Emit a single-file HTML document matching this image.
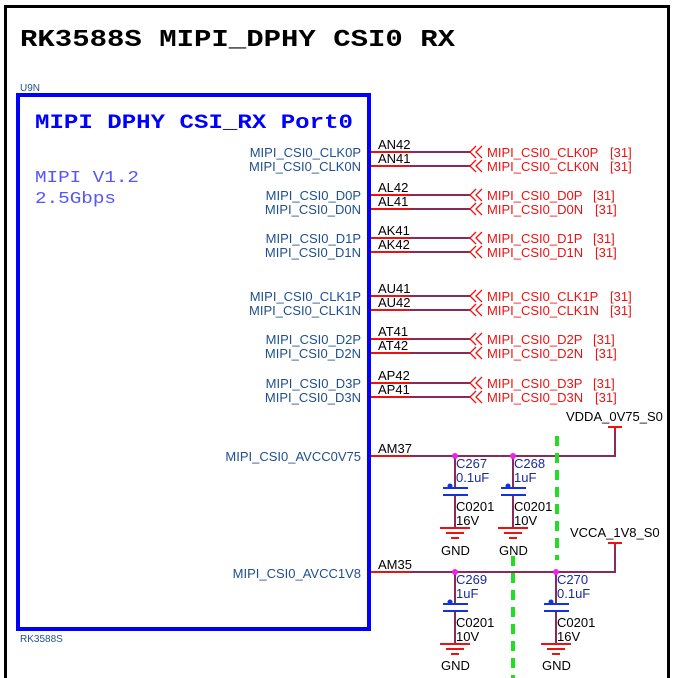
<!DOCTYPE html>
<html><head><meta charset="utf-8"><style>
html,body{margin:0;padding:0;background:#fff;}
svg{display:block;}
.pn{font-family:"Liberation Sans",sans-serif;font-size:13px;fill:#1f4f8f;}
.pin{font-family:"Liberation Sans",sans-serif;font-size:13px;fill:#000;}
.net{font-family:"Liberation Sans",sans-serif;font-size:13px;fill:#ee1111;}
.cap{font-family:"Liberation Sans",sans-serif;font-size:13px;fill:#1a2a9a;}
.blk{font-family:"Liberation Sans",sans-serif;font-size:13px;fill:#000;}
</style></head><body>
<svg width="674" height="678" viewBox="0 0 674 678" xmlns="http://www.w3.org/2000/svg">
<rect x="0" y="0" width="674" height="678" fill="#fff"/>
<path d="M5.5 678 V6.5 H668.5 V678" fill="none" stroke="#000" stroke-width="3"/>
<text x="20" y="46" font-family="Liberation Mono,monospace" font-weight="bold" font-size="24" textLength="435" lengthAdjust="spacingAndGlyphs" fill="#000">RK3588S MIPI_DPHY CSI0 RX</text>
<text x="20" y="91" font-family="Liberation Sans,sans-serif" font-size="10" fill="#1f4f8f">U9N</text>
<rect x="18" y="95" width="351" height="534" fill="none" stroke="#0000ff" stroke-width="4"/>
<text x="35" y="128" font-family="Liberation Mono,monospace" font-weight="bold" font-size="20" textLength="318" lengthAdjust="spacingAndGlyphs" fill="#0000ff">MIPI DPHY CSI_RX Port0</text>
<text x="35" y="182" font-family="Liberation Mono,monospace" font-size="17" textLength="104" lengthAdjust="spacingAndGlyphs" fill="#5555ff">MIPI V1.2</text>
<text x="35" y="203" font-family="Liberation Mono,monospace" font-size="17" textLength="81" lengthAdjust="spacingAndGlyphs" fill="#5555ff">2.5Gbps</text>
<text x="20" y="642" font-family="Liberation Sans,sans-serif" font-size="10" fill="#1f4f8f">RK3588S</text>

<g>
<line x1="371" y1="152" x2="410" y2="152" stroke="#ee1111" stroke-width="2"/><line x1="410" y1="152" x2="470" y2="152" stroke="#8a2a5a" stroke-width="2"/>
<line x1="371" y1="166" x2="410" y2="166" stroke="#ee1111" stroke-width="2"/><line x1="410" y1="166" x2="470" y2="166" stroke="#8a2a5a" stroke-width="2"/>
<line x1="371" y1="195" x2="410" y2="195" stroke="#ee1111" stroke-width="2"/><line x1="410" y1="195" x2="470" y2="195" stroke="#8a2a5a" stroke-width="2"/>
<line x1="371" y1="209" x2="410" y2="209" stroke="#ee1111" stroke-width="2"/><line x1="410" y1="209" x2="470" y2="209" stroke="#8a2a5a" stroke-width="2"/>
<line x1="371" y1="238" x2="410" y2="238" stroke="#ee1111" stroke-width="2"/><line x1="410" y1="238" x2="470" y2="238" stroke="#8a2a5a" stroke-width="2"/>
<line x1="371" y1="252" x2="410" y2="252" stroke="#ee1111" stroke-width="2"/><line x1="410" y1="252" x2="470" y2="252" stroke="#8a2a5a" stroke-width="2"/>
<line x1="371" y1="296" x2="410" y2="296" stroke="#ee1111" stroke-width="2"/><line x1="410" y1="296" x2="470" y2="296" stroke="#8a2a5a" stroke-width="2"/>
<line x1="371" y1="310" x2="410" y2="310" stroke="#ee1111" stroke-width="2"/><line x1="410" y1="310" x2="470" y2="310" stroke="#8a2a5a" stroke-width="2"/>
<line x1="371" y1="339" x2="410" y2="339" stroke="#ee1111" stroke-width="2"/><line x1="410" y1="339" x2="470" y2="339" stroke="#8a2a5a" stroke-width="2"/>
<line x1="371" y1="353" x2="410" y2="353" stroke="#ee1111" stroke-width="2"/><line x1="410" y1="353" x2="470" y2="353" stroke="#8a2a5a" stroke-width="2"/>
<line x1="371" y1="383" x2="410" y2="383" stroke="#ee1111" stroke-width="2"/><line x1="410" y1="383" x2="470" y2="383" stroke="#8a2a5a" stroke-width="2"/>
<line x1="371" y1="397" x2="410" y2="397" stroke="#ee1111" stroke-width="2"/><line x1="410" y1="397" x2="470" y2="397" stroke="#8a2a5a" stroke-width="2"/>
</g>
<g fill="none" stroke="#ee1111" stroke-width="1.3">
<path d="M476 146 L470 152 L476 158 M482 146 L476 152 L482 158"/>
<path d="M476 160 L470 166 L476 172 M482 160 L476 166 L482 172"/>
<path d="M476 189 L470 195 L476 201 M482 189 L476 195 L482 201"/>
<path d="M476 203 L470 209 L476 215 M482 203 L476 209 L482 215"/>
<path d="M476 232 L470 238 L476 244 M482 232 L476 238 L482 244"/>
<path d="M476 246 L470 252 L476 258 M482 246 L476 252 L482 258"/>
<path d="M476 290 L470 296 L476 302 M482 290 L476 296 L482 302"/>
<path d="M476 304 L470 310 L476 316 M482 304 L476 310 L482 316"/>
<path d="M476 333 L470 339 L476 345 M482 333 L476 339 L482 345"/>
<path d="M476 347 L470 353 L476 359 M482 347 L476 353 L482 359"/>
<path d="M476 377 L470 383 L476 389 M482 377 L476 383 L482 389"/>
<path d="M476 391 L470 397 L476 403 M482 391 L476 397 L482 403"/>
</g>
<g text-anchor="end">
<text class="pn" x="361" y="157">MIPI_CSI0_CLK0P</text>
<text class="pn" x="361" y="171">MIPI_CSI0_CLK0N</text>
<text class="pn" x="361" y="200">MIPI_CSI0_D0P</text>
<text class="pn" x="361" y="214">MIPI_CSI0_D0N</text>
<text class="pn" x="361" y="243">MIPI_CSI0_D1P</text>
<text class="pn" x="361" y="257">MIPI_CSI0_D1N</text>
<text class="pn" x="361" y="301">MIPI_CSI0_CLK1P</text>
<text class="pn" x="361" y="315">MIPI_CSI0_CLK1N</text>
<text class="pn" x="361" y="344">MIPI_CSI0_D2P</text>
<text class="pn" x="361" y="358">MIPI_CSI0_D2N</text>
<text class="pn" x="361" y="388">MIPI_CSI0_D3P</text>
<text class="pn" x="361" y="402">MIPI_CSI0_D3N</text>
<text class="pn" x="361" y="461">MIPI_CSI0_AVCC0V75</text>
<text class="pn" x="361" y="578">MIPI_CSI0_AVCC1V8</text>
</g>
<text class="pin" x="378" y="149">AN42</text><text class="pin" x="378" y="163">AN41</text>
<text class="pin" x="378" y="192">AL42</text><text class="pin" x="378" y="206">AL41</text>
<text class="pin" x="378" y="235">AK41</text><text class="pin" x="378" y="249">AK42</text>
<text class="pin" x="378" y="293">AU41</text><text class="pin" x="378" y="307">AU42</text>
<text class="pin" x="378" y="336">AT41</text><text class="pin" x="378" y="350">AT42</text>
<text class="pin" x="378" y="380">AP42</text><text class="pin" x="378" y="394">AP41</text>
<text class="pin" x="378" y="453">AM37</text><text class="pin" x="378" y="569">AM35</text>

<text class="net" x="487" y="157">MIPI_CSI0_CLK0P</text><text class="net" x="610" y="157">[31]</text>
<text class="net" x="487" y="171">MIPI_CSI0_CLK0N</text><text class="net" x="610" y="171">[31]</text>
<text class="net" x="487" y="200">MIPI_CSI0_D0P</text><text class="net" x="593" y="200">[31]</text>
<text class="net" x="487" y="214">MIPI_CSI0_D0N</text><text class="net" x="595" y="214">[31]</text>
<text class="net" x="487" y="243">MIPI_CSI0_D1P</text><text class="net" x="593" y="243">[31]</text>
<text class="net" x="487" y="257">MIPI_CSI0_D1N</text><text class="net" x="595" y="257">[31]</text>
<text class="net" x="487" y="301">MIPI_CSI0_CLK1P</text><text class="net" x="610" y="301">[31]</text>
<text class="net" x="487" y="315">MIPI_CSI0_CLK1N</text><text class="net" x="610" y="315">[31]</text>
<text class="net" x="487" y="344">MIPI_CSI0_D2P</text><text class="net" x="593" y="344">[31]</text>
<text class="net" x="487" y="358">MIPI_CSI0_D2N</text><text class="net" x="595" y="358">[31]</text>
<text class="net" x="487" y="388">MIPI_CSI0_D3P</text><text class="net" x="593" y="388">[31]</text>
<text class="net" x="487" y="402">MIPI_CSI0_D3N</text><text class="net" x="595" y="402">[31]</text>

<line x1="371" y1="456" x2="410" y2="456" stroke="#ee1111" stroke-width="2"/>
<path d="M410 456 H615 V431" fill="none" stroke="#8a2a5a" stroke-width="2"/>
<line x1="615" y1="431" x2="615" y2="427" stroke="#ee1111" stroke-width="2"/>
<line x1="608" y1="427" x2="622" y2="427" stroke="#ee1111" stroke-width="2"/>
<text class="blk" x="566" y="421">VDDA_0V75_S0</text>

<line x1="371" y1="572" x2="410" y2="572" stroke="#ee1111" stroke-width="2"/>
<path d="M410 572 H615 V547" fill="none" stroke="#8a2a5a" stroke-width="2"/>
<line x1="615" y1="547" x2="615" y2="543" stroke="#ee1111" stroke-width="2"/>
<line x1="608" y1="543" x2="622" y2="543" stroke="#ee1111" stroke-width="2"/>
<text class="blk" x="570" y="537">VCCA_1V8_S0</text>

<line x1="557" y1="436" x2="557" y2="560" stroke="#22dd22" stroke-width="4" stroke-dasharray="10,7"/>
<line x1="513" y1="556" x2="513" y2="678" stroke="#22dd22" stroke-width="4" stroke-dasharray="10,7"/>

<g stroke-width="2" fill="none">
<path d="M455 456 V488" stroke="#8a2a5a"/><path d="M455 496 V528" stroke="#8a2a5a"/>
<path d="M443 488 H468 M443 495 H468" stroke="#1133dd"/>
<path d="M440 528 H470 M446 533 H464 M451 538 H459" stroke="#ee1111"/>
<path d="M513 456 V488" stroke="#8a2a5a"/><path d="M513 496 V528" stroke="#8a2a5a"/>
<path d="M501 488 H526 M501 495 H526" stroke="#1133dd"/>
<path d="M498 528 H528 M504 533 H522 M509 538 H517" stroke="#ee1111"/>
<path d="M455 572 V604" stroke="#8a2a5a"/><path d="M455 612 V644" stroke="#8a2a5a"/>
<path d="M443 604 H468 M443 611 H468" stroke="#1133dd"/>
<path d="M440 644 H470 M446 649 H464 M451 654 H459" stroke="#ee1111"/>
<path d="M556 572 V604" stroke="#8a2a5a"/><path d="M556 612 V644" stroke="#8a2a5a"/>
<path d="M544 604 H569 M544 611 H569" stroke="#1133dd"/>
<path d="M541 644 H571 M547 649 H565 M552 654 H560" stroke="#ee1111"/>
</g>
<g fill="#1133dd"><circle cx="450" cy="486" r="2.5"/><circle cx="508" cy="486" r="2.5"/><circle cx="450" cy="602" r="2.5"/><circle cx="551" cy="602" r="2.5"/></g>
<g fill="#ee22ee"><circle cx="455" cy="456" r="3"/><circle cx="513" cy="456" r="3"/><circle cx="455" cy="572" r="3"/><circle cx="556" cy="572" r="3"/></g>
<text class="cap" x="456" y="468">C267</text><text class="cap" x="456" y="482">0.1uF</text>
<text class="blk" x="456" y="511">C0201</text><text class="blk" x="456" y="525">16V</text>
<text class="blk" x="441" y="555">GND</text>
<text class="cap" x="514" y="468">C268</text><text class="cap" x="514" y="482">1uF</text>
<text class="blk" x="514" y="511">C0201</text><text class="blk" x="514" y="525">10V</text>
<text class="blk" x="499" y="555">GND</text>
<text class="cap" x="456" y="584">C269</text><text class="cap" x="456" y="598">1uF</text>
<text class="blk" x="456" y="627">C0201</text><text class="blk" x="456" y="641">10V</text>
<text class="blk" x="441" y="670">GND</text>
<text class="cap" x="557" y="584">C270</text><text class="cap" x="557" y="598">0.1uF</text>
<text class="blk" x="557" y="627">C0201</text><text class="blk" x="557" y="641">16V</text>
<text class="blk" x="542" y="670">GND</text>
</svg>
</body></html>
